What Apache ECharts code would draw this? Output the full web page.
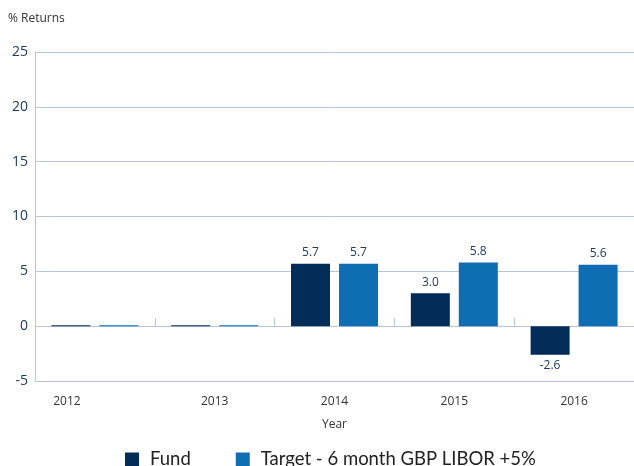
<!DOCTYPE html>
<html>
<head>
<meta charset="utf-8">
<script src="https://cdn.jsdelivr.net/npm/echarts@6/dist/echarts.min.js"></script>
<style>
  html, body { margin: 0; padding: 0; background: #fff; }
  #box { width: 634px; height: 466px; }
</style>
</head>
<body>
<div id="box"></div>
<script>
var years = ['2012', '2013', '2014', '2015', '2016'];
var fund = [0, 0, 5.7, 3.0, -2.6];
var target = [0, 0, 5.7, 5.8, 5.6];
var yTicks = [-5, 0, 5, 10, 15, 20, 25];

var lineColor = '#b7c5db';
var navy = '#1d3a63';
var font = 'Open Sans';

function toBars(vals) {
    return vals.map(function (v) {
        return {
            value: v,
            label: { position: v < 0 ? 'bottom' : 'top' }
        };
    });
}

var myCharts = echarts.init(document.getElementById('box'));
var option = {
    animation: false,
    title: {
        text: '% Returns',
        left: 8,
        top: 13,
        padding: 0,
        textStyle: { color: '#333', fontSize: 12, fontWeight: 'normal', fontFamily: font }
    },
    legend: {
        left: 125,
        top: 450,
        padding: 0,
        itemWidth: 14,
        itemHeight: 14,
        itemGap: 45,
        icon: 'rect',
        formatter: function (name) { return '{a|' + name + '}'; },
        textStyle: {
            color: '#222',
            fontFamily: 'Lato',
            fontSize: 18.5,
            rich: { a: { color: '#222', fontFamily: 'Lato', fontSize: 18.5, padding: [0, 0, 0, 6] } }
        },
        data: ['Fund', 'Target - 6 month GBP LIBOR +5%']
    },
    grid: { left: 35, right: -1, top: 52, bottom: 85 },
    xAxis: [
        {
            type: 'category',
            data: years,
            axisLine: { onZero: true, lineStyle: { color: lineColor, width: 1 } },
            axisTick: { show: true, inside: true, length: 8, lineStyle: { color: lineColor } },
            axisLabel: { show: false }
        },
        {
            type: 'category',
            data: years,
            position: 'bottom',
            axisLine: { onZero: false, lineStyle: { color: lineColor, width: 1 } },
            axisTick: { show: false },
            axisLabel: {
                margin: 15,
                color: '#333',
                fontSize: 12,
                fontFamily: font,
                formatter: function (v) { return v === '2012' ? '{a|' + v + '}' : v; },
                rich: { a: { padding: [0, 56, 0, 0], color: '#333', fontSize: 12, fontFamily: font } }
            },
            name: 'Year',
            nameLocation: 'middle',
            nameGap: 38,
            nameTextStyle: { color: '#333', fontSize: 12, fontFamily: font }
        }
    ],
    yAxis: {
        type: 'value',
        min: yTicks[0],
        max: yTicks[yTicks.length - 1],
        interval: 5,
        axisLine: { show: true, lineStyle: { color: lineColor, width: 1 } },
        axisTick: { show: false },
        axisLabel: { margin: 7, color: navy, fontSize: 14, fontFamily: font },
        splitLine: { lineStyle: { color: lineColor, width: 1 } }
    },
    series: [
        {
            name: 'Fund',
            type: 'bar',
            xAxisIndex: 0,
            barWidth: 39,
            barGap: '23%',
            barMinHeight: 1,
            itemStyle: { color: '#032d59' },
            label: {
                show: true,
                distance: 5,
                color: navy,
                fontSize: 12,
                fontFamily: font,
                formatter: function (p) { return p.value === 0 ? '' : p.value.toFixed(1); }
            },
            data: toBars(fund)
        },
        {
            name: 'Target - 6 month GBP LIBOR +5%',
            type: 'bar',
            xAxisIndex: 0,
            barWidth: 39,
            barGap: '23%',
            barMinHeight: 1,
            itemStyle: { color: '#0f6db4' },
            label: {
                show: true,
                distance: 5,
                color: navy,
                fontSize: 12,
                fontFamily: font,
                formatter: function (p) { return p.value === 0 ? '' : p.value.toFixed(1); }
            },
            data: toBars(target)
        }
    ]
};
myCharts.setOption(option);
</script>
</body>
</html>
